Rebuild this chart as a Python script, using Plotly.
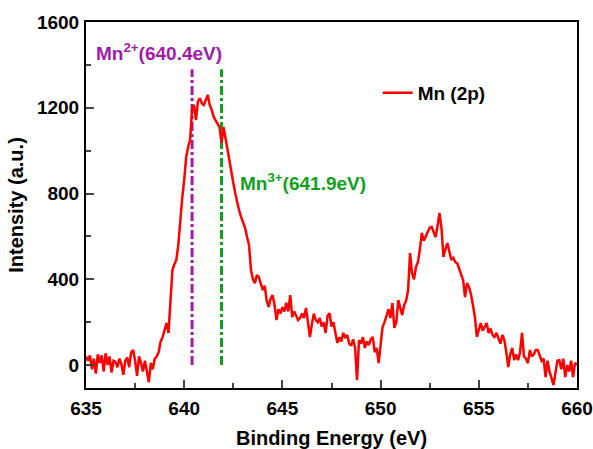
import numpy as np
import plotly.graph_objects as go

# Binding energy grid (eV) and intensity values
energy_start = 635.0
energy_step = 0.1
intensity = [
    40, 20, 45, -20, 30, -40, 50, 10, 45, -30,
    55, 0, 40, -35, 20, 15, -10, 30, 5, -45,
    20, 35, -10, 60, 70, 20, -50, 40, 10, -30,
    20, -40, -80, 10, -20, 30, 40, 60, 110, 130,
    160, 196, 150, 300, 443, 470, 490, 560, 676, 780,
    863, 970, 1017, 1050, 1190, 1213, 1143, 1230, 1245, 1220,
    1213, 1235, 1260, 1213, 1190, 1157, 1140, 1120, 1110, 1035,
    1110, 1060, 1003, 960, 910, 850, 800, 755, 720, 690,
    662, 640, 597, 560, 443, 400, 382, 420, 410, 380,
    350, 370, 300, 271, 310, 326, 280, 210, 260, 240,
    270, 250, 290, 250, 326, 224, 250, 230, 210, 219,
    240, 220, 266, 200, 131, 190, 240, 210, 200, 219,
    180, 200, 150, 230, 242, 180, 200, 150, 103, 130,
    110, 150, 130, 140, 100, 90, 120, 80, -70, 117,
    100, 130, 80, 110, 93, 120, 131, 60, 80, 9,
    100, 177, 200, 230, 260, 220, 289, 173, 200, 303,
    260, 233, 280, 300, 350, 522, 429, 400, 457, 480,
    540, 616, 580, 600, 616, 640, 644, 620, 597, 650,
    709, 640, 504, 540, 569, 530, 490, 500, 480, 475,
    450, 420, 396, 317, 382, 364, 330, 280, 224, 131,
    170, 196, 160, 180, 196, 150, 170, 140, 131, 150,
    120, 100, 140, 117, 60, -9, 50, 80, 23, 50,
    23, 60, 150, 40, 30, 9, 70, 40, 50, 70,
    70, 40, 20, 30, -56, 20, -30, -60, -93, -40,
    20, 23, -20, 30, -56, 0, -30, 20, -56, 10,
    0,
]
energy = [round(energy_start + i * energy_step, 1) for i in range(len(intensity))]

# Reference peak positions
mn2_energy = [640.4, 640.4]
mn3_energy = [641.9, 641.9]
marker_line_y = [0, 1380]

x_ticks = [635, 640, 645, 650, 655, 660]
y_ticks = [0, 400, 800, 1200, 1600]

FONT = "Arial, Liberation Sans, sans-serif"

fig = go.Figure()
fig.add_trace(go.Scatter(x=mn2_energy, y=marker_line_y, mode="lines",
                         line=dict(color="#A01CA8", width=3, dash="dashdot"),
                         showlegend=False, hoverinfo="skip"))
fig.add_trace(go.Scatter(x=mn3_energy, y=marker_line_y, mode="lines",
                         line=dict(color="#0FA01E", width=3, dash="dashdot"),
                         showlegend=False, hoverinfo="skip"))
fig.add_trace(go.Scatter(x=energy, y=intensity, mode="lines", name="Mn (2p)",
                         line=dict(color="#FF0000", width=2.5)))

fig.add_annotation(x=635.42, y=1460, xref="x", yref="y", xanchor="left", yanchor="middle",
                   text="Mn<sup>2+</sup>(640.4eV)", showarrow=False,
                   font=dict(family=FONT, size=19, color="#A01CA8", weight="bold"))
fig.add_annotation(x=642.75, y=853, xref="x", yref="y", xanchor="left", yanchor="middle",
                   text="Mn<sup>3+</sup>(641.9eV)", showarrow=False,
                   font=dict(family=FONT, size=19, color="#0FA01E", weight="bold"))

fig.update_layout(
    width=593, height=449,
    margin=dict(l=86, r=16, t=22, b=61),
    paper_bgcolor="white", plot_bgcolor="white",
    font=dict(family=FONT, size=19, color="black", weight="bold"),
    legend=dict(x=0.594, y=0.806, xanchor="left", yanchor="middle",
                bgcolor="rgba(0,0,0,0)",
                font=dict(family=FONT, size=19, color="black", weight="bold")),
    xaxis=dict(range=[635, 660], tickvals=x_ticks, ticks="inside", ticklen=8, tickwidth=2,
               minor=dict(dtick=2.5, ticks="inside", ticklen=5, tickwidth=2),
               showline=True, linecolor="black", linewidth=2, mirror=True,
               showgrid=False, zeroline=False, automargin=False,
               ticklabelstandoff=2,
               tickfont=dict(family=FONT, size=19, weight="bold"),
               title=dict(text="Binding Energy (eV)", standoff=14,
                          font=dict(family=FONT, size=20, weight="bold"))),
    yaxis=dict(range=[-107, 1600], tickvals=y_ticks, ticks="inside", ticklen=8, tickwidth=2,
               minor=dict(dtick=200, tick0=0, ticks="inside", ticklen=5, tickwidth=2),
               showline=True, linecolor="black", linewidth=2, mirror=True,
               showgrid=False, zeroline=False, automargin=False,
               ticklabelstandoff=1,
               tickfont=dict(family=FONT, size=19, weight="bold"),
               title=dict(text="Intensity (a.u.)", standoff=8,
                          font=dict(family=FONT, size=20, weight="bold"))),
)

fig.write_html("out.html", config={"displayModeBar": False},
               post_script="document.body.style.margin='0';")
